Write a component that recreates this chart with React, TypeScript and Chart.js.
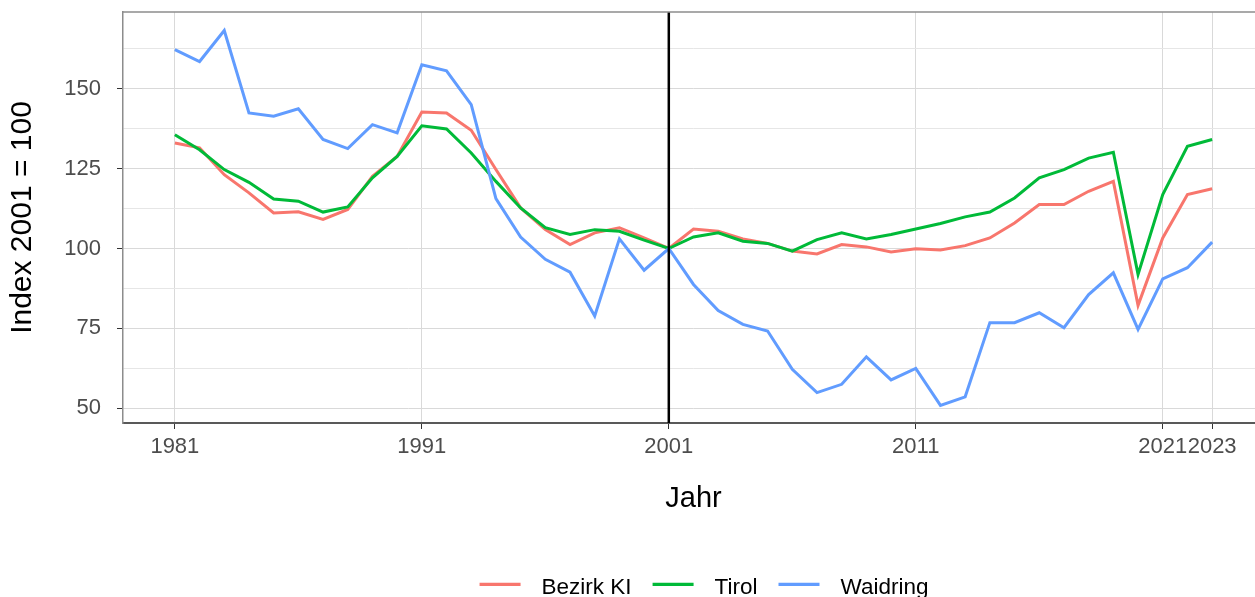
import React, { useEffect, useRef } from 'react';
import { Chart, registerables } from 'chart.js';

Chart.register(...registerables);

const years = [
  1981, 1982, 1983, 1984, 1985, 1986, 1987, 1988, 1989, 1990,
  1991, 1992, 1993, 1994, 1995, 1996, 1997, 1998, 1999, 2000,
  2001,
  2002, 2003, 2004, 2005, 2006, 2007, 2008, 2009, 2010, 2011,
  2012, 2013, 2014, 2015, 2016, 2017, 2018, 2019, 2020, 2021, 2022, 2023,
];

const bezirkKI = [
  133.0, 131.5, 123.1, 117.4, 111.1, 111.5, 109.1, 112.2, 122.6, 128.8,
  142.7, 142.4, 137.0, 124.7, 112.7, 105.9, 101.25, 104.9, 106.5, 103.3,
  100,
  106.1, 105.4, 103.0, 101.6, 99.2, 98.3, 101.25, 100.5, 98.9, 99.9,
  99.5, 100.9, 103.3, 108.0, 113.75, 113.75, 117.9, 121.0, 82.2, 103.3, 116.9, 118.7,
];

const tirol = [
  135.6, 130.9, 124.7, 120.7, 115.5, 114.8, 111.4, 113.0, 122.1, 128.8,
  138.4, 137.4, 129.9, 121.0, 112.7, 106.5, 104.4, 105.9, 105.4, 102.6,
  100,
  103.6, 104.9, 102.3, 101.6, 99.2, 102.8, 104.9, 103.0, 104.4, 106.1,
  107.8, 109.9, 111.4, 115.8, 122.1, 124.7, 128.3, 130.1, 91.9, 116.9, 132.0, 134.1,
];

const waidring = [
  162.2, 158.5, 168.2, 142.4, 141.4, 143.7, 134.1, 131.25, 138.75, 136.2,
  157.5, 155.6, 145.0, 115.6, 103.6, 96.6, 92.6, 78.9, 103.0, 93.2,
  100,
  88.75, 80.6, 76.25, 74.2, 62.2, 54.9, 57.5, 66.1, 58.9, 62.5,
  50.9, 53.6, 76.8, 76.8, 79.9, 75.2, 85.6, 92.4, 74.7, 90.5, 94.0, 102.0,
];

const seriesNames = ['Bezirk KI', 'Tirol', 'Waidring'];
const seriesValues = [bezirkKI, tirol, waidring];
const seriesColors = ['#F8766D', '#00BA38', '#619CFF'];
const xTicks = [1981, 1991, 2001, 2011, 2021, 2023];
const yMajorStep = 25;
const refYear = 2001;
const xTitle = 'Jahr';
const yTitle = 'Index 2001 = 100';

const FONT = '"Liberation Sans", Arial, Helvetica, sans-serif';

const overlayPlugin = {
  id: 'overlay',
  afterDatasetsDraw(chart: any) {
    const { ctx, chartArea, scales } = chart;
    const x = scales.x.getPixelForValue(refYear);
    ctx.save();
    ctx.strokeStyle = '#000000';
    ctx.lineWidth = 2.5;
    ctx.beginPath();
    ctx.moveTo(x, chartArea.top);
    ctx.lineTo(x, chartArea.bottom);
    ctx.stroke();
    ctx.restore();
  },
  afterDraw(chart: any) {
    const { ctx, chartArea } = chart;
    ctx.save();
    // top border
    ctx.strokeStyle = '#8C8C8C';
    ctx.lineWidth = 1.5;
    ctx.beginPath();
    ctx.moveTo(chartArea.left, chartArea.top);
    ctx.lineTo(chartArea.right, chartArea.top);
    ctx.stroke();

    // x title
    ctx.fillStyle = '#000000';
    ctx.font = `29px ${FONT}`;
    ctx.textAlign = 'center';
    ctx.textBaseline = 'alphabetic';
    ctx.fillText(xTitle, (chartArea.left + chartArea.right) / 2, 507);

    // y title
    ctx.save();
    ctx.translate(23, (chartArea.top + chartArea.bottom) / 2);
    ctx.rotate(-Math.PI / 2);
    ctx.font = `30px ${FONT}`;
    ctx.textAlign = 'center';
    ctx.textBaseline = 'middle';
    ctx.fillText(yTitle, 0, 0);
    ctx.restore();

    // legend
    ctx.font = `22.5px ${FONT}`;
    ctx.textAlign = 'left';
    ctx.textBaseline = 'alphabetic';
    const lineLen = 41;
    const gap = 21;
    const widths = seriesNames.map((n) => ctx.measureText(n).width);
    let total = 0;
    widths.forEach((w, i) => {
      total += lineLen + gap + w + (i < widths.length - 1 ? gap : 0);
    });
    let cx = 704 - total / 2;
    const ly = 584.3;
    seriesNames.forEach((n, i) => {
      ctx.strokeStyle = seriesColors[i];
      ctx.lineWidth = 3.3;
      ctx.beginPath();
      ctx.moveTo(cx, ly);
      ctx.lineTo(cx + lineLen, ly);
      ctx.stroke();
      cx += lineLen + gap;
      ctx.fillStyle = '#000000';
      ctx.fillText(n, cx, 594);
      cx += widths[i] + gap;
    });
    ctx.restore();
  },
};

export default function App() {
  const canvasRef = useRef<HTMLCanvasElement | null>(null);

  useEffect(() => {
    const canvas = canvasRef.current;
    if (!canvas) return;
    const isMajor = (v: number) => Math.abs(v % yMajorStep) < 1e-6;
    const chart = new Chart(canvas, {
      type: 'line',
      data: {
        datasets: seriesNames.map((name, i) => ({
          label: name,
          data: years.map((yr, j) => ({ x: yr, y: seriesValues[i][j] })),
          borderColor: seriesColors[i],
          backgroundColor: seriesColors[i],
          borderWidth: 3,
          pointRadius: 0,
          tension: 0,
          fill: false,
          order: seriesNames.length - i,
        })),
      },
      options: {
        responsive: false,
        animation: false,
        devicePixelRatio: 1,
        layout: { padding: { top: 12, right: 11, left: 0, bottom: 0 } },
        plugins: {
          legend: { display: false },
          tooltip: { enabled: false },
          title: { display: false },
        },
        scales: {
          x: {
            type: 'linear',
            min: 1978.9,
            max: 2025.1,
            afterBuildTicks: (s: any) => {
              s.ticks = xTicks.map((v) => ({ value: v }));
            },
            afterFit: (s: any) => {
              s.height = 174;
              s.paddingLeft = 0;
              s.paddingRight = 0;
            },
            ticks: {
              autoSkip: false,
              maxRotation: 0,
              minRotation: 0,
              padding: 5,
              color: '#4D4D4D',
              font: { family: FONT, size: 22 },
              callback: (v: any) => String(v),
            },
            grid: {
              color: '#D9D9D9',
              lineWidth: 1,
              tickLength: 6,
              tickColor: '#333333',
              tickWidth: 1,
            },
            border: { display: true, color: '#595959', width: 2 },
          },
          y: {
            type: 'linear',
            min: 45.4,
            max: 174,
            afterFit: (s: any) => {
              s.width = 123;
              s.paddingTop = 0;
              s.paddingBottom = 0;
            },
            ticks: {
              stepSize: 12.5,
              includeBounds: false,
              padding: 16,
              color: '#4D4D4D',
              font: { family: FONT, size: 22 },
              callback: (v: any) => (isMajor(Number(v)) ? String(v) : ''),
            },
            grid: {
              color: (c: any) => (c.tick && isMajor(c.tick.value) ? '#D9D9D9' : '#E6E6E6'),
              lineWidth: 1,
              tickLength: 6,
              tickColor: (c: any) => (c.tick && isMajor(c.tick.value) ? '#333333' : 'rgba(0,0,0,0)'),
              tickWidth: 1,
            },
            border: { display: true, color: '#8C8C8C', width: 1.5 },
          },
        },
      },
      plugins: [overlayPlugin],
    } as any);
    return () => chart.destroy();
  }, []);

  return (
    <div
      style={{
        position: 'absolute',
        left: 0,
        top: 0,
        width: 1255,
        height: 597,
        overflow: 'hidden',
        background: '#ffffff',
      }}
    >
      <canvas ref={canvasRef} width={1275} height={597} style={{ display: 'block' }} />
    </div>
  );
}
